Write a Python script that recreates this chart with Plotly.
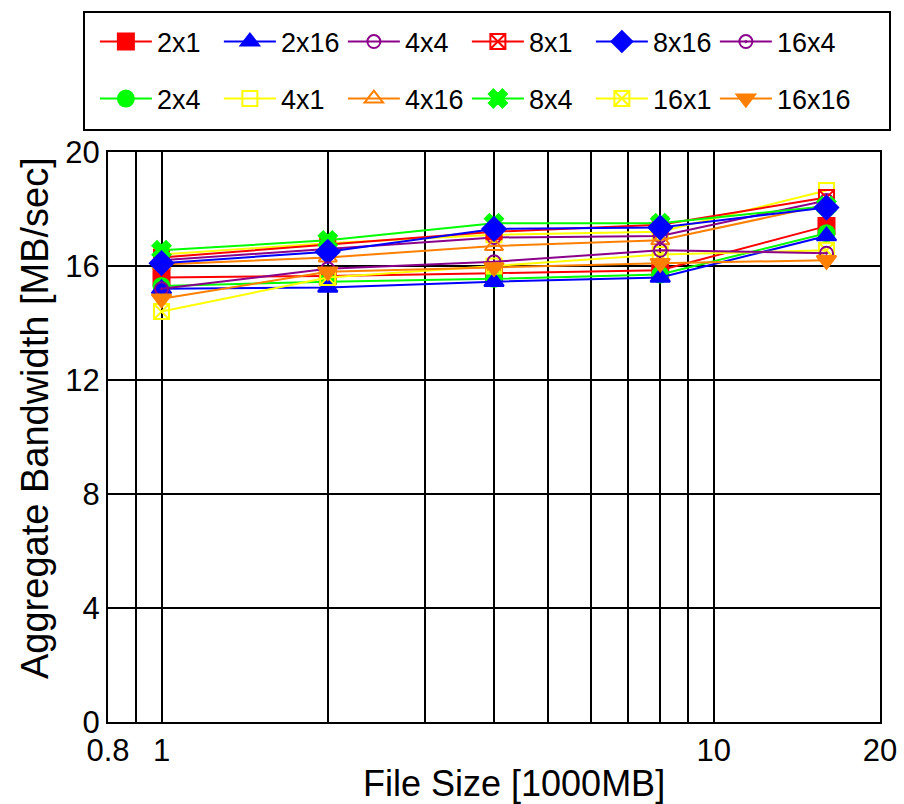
import plotly.graph_objects as go

file_size = [1, 2, 4, 8, 16]

# drawing order (column-major of the legend)
names = ["2x1", "2x4", "2x16", "4x1", "4x4", "4x16", "8x1", "8x4", "8x16", "16x1", "16x4", "16x16"]
bw_2x1 = [15.6, 15.65, 15.75, 15.85, 17.4]
bw_2x4 = [15.3, 15.45, 15.55, 15.7, 17.15]
bw_2x16 = [15.2, 15.25, 15.45, 15.6, 17.05]
bw_4x1 = [16.4, 16.8, 17.1, 17.2, 18.65]
bw_4x4 = [16.2, 16.6, 17.0, 17.05, 18.3]
bw_4x16 = [16.05, 16.3, 16.7, 16.9, 18.15]
bw_8x1 = [16.3, 16.75, 17.2, 17.45, 18.4]
bw_8x4 = [16.55, 16.9, 17.5, 17.5, 18.1]
bw_8x16 = [16.1, 16.5, 17.3, 17.35, 18.05]
bw_16x1 = [14.4, 15.6, 16.0, 16.4, 16.55]
bw_16x4 = [15.2, 15.9, 16.15, 16.55, 16.45]
bw_16x16 = [14.85, 15.8, 15.95, 16.1, 16.2]
values = [bw_2x1, bw_2x4, bw_2x16, bw_4x1, bw_4x4, bw_4x16,
          bw_8x1, bw_8x4, bw_8x16, bw_16x1, bw_16x4, bw_16x16]

x_tickvals = [0.8, 1, 10, 20]
x_ticktext = ["0.8", "1", "10", "20"]
x_minor = [0.9, 2, 3, 4, 5, 6, 7, 8, 9]
y_tickvals = [0, 4, 8, 12, 16, 20]
x_title = "File Size [1000MB]"
y_title = "Aggregate Bandwidth [MB/sec]"

RED, BLUE, PURPLE, GREEN, YELLOW, ORANGE = "#FF0000", "#0000FF", "#8B008B", "#00FF00", "#FFFF00", "#FF8000"
styles = {
    "2x1": (RED, "square", 16),
    "2x4": (GREEN, "circle", 16),
    "2x16": (BLUE, "triangle-up", 17),
    "4x1": (YELLOW, "square-open", 15),
    "4x4": (PURPLE, "circle-open", 13),
    "4x16": (ORANGE, "triangle-up-open", 16),
    "8x1": (RED, "square-x-open", 15),
    "8x4": (GREEN, "x", 16),
    "8x16": (BLUE, "diamond", 18),
    "16x1": (YELLOW, "square-x-open", 15),
    "16x4": (PURPLE, "circle-open-dot", 13),
    "16x16": (ORANGE, "triangle-down", 17),
}
order1 = ["2x1", "2x16", "4x4", "8x1", "8x16", "16x4"]
order2 = ["2x4", "4x1", "4x16", "8x4", "16x1", "16x16"]

FONT = "Liberation Sans, Arial, sans-serif"

fig = go.Figure()
for nm, vals in zip(names, values):
    col, sym, sz = styles[nm]
    in1 = nm in order1
    idx = order1.index(nm) if in1 else order2.index(nm)
    fig.add_trace(go.Scatter(
        x=file_size, y=vals, name=nm, mode="lines+markers",
        line=dict(color=col, width=2),
        marker=dict(symbol=sym, size=sz, color=col, line=dict(color=col, width=2)),
        legend="legend" if in1 else "legend2",
        legendrank=1000 + idx,
        legendwidth=90 if idx == 5 else None,
    ))

leg_common = dict(orientation="h", xanchor="left", yanchor="middle",
                  font=dict(family=FONT, size=27, color="black"),
                  bgcolor="rgba(0,0,0,0)", borderwidth=0,
                  itemwidth=52, entrywidth=57, traceorder="normal",
                  itemclick=False, itemdoubleclick=False)

fig.update_layout(
    width=904, height=804,
    margin=dict(l=108, r=24, t=152, b=82),
    paper_bgcolor="white", plot_bgcolor="white",
    font=dict(family=FONT, size=30, color="black"),
    showlegend=True,
    legend=dict(x=-0.017, y=(722 - 42) / 570, **leg_common),
    legend2=dict(x=-0.017, y=(722 - 99) / 570, **leg_common),
    xaxis=dict(
        type="log", range=[-0.09691, 1.30103],
        tickvals=x_tickvals, ticktext=x_ticktext, ticks="",
        showgrid=True, gridcolor="black", gridwidth=2,
        minor=dict(tickvals=x_minor, showgrid=True, gridcolor="black", gridwidth=2, ticks=""),
        showline=True, linecolor="black", linewidth=2, mirror=True,
        zeroline=False, automargin=False,
        tickfont=dict(family=FONT, size=31),
    ),
    yaxis=dict(
        range=[0, 20], tickvals=y_tickvals, ticks="",
        showgrid=True, gridcolor="black", gridwidth=2,
        showline=True, linecolor="black", linewidth=2, mirror=True,
        zeroline=False, automargin=False,
        tickfont=dict(family=FONT, size=31),
    ),
    annotations=[
        dict(text=x_title, xref="paper", yref="paper", x=(514 - 108) / 772, y=(722 - 784) / 570,
             xanchor="center", yanchor="middle", showarrow=False,
             font=dict(family=FONT, size=36, color="black")),
        dict(text=y_title, xref="paper", yref="paper", x=(35 - 108) / 772, y=(722 - 418) / 570,
             xanchor="center", yanchor="middle", showarrow=False, textangle=-90,
             font=dict(family=FONT, size=38, color="black")),
    ],
    shapes=[dict(type="rect", xref="paper", yref="paper",
                 x0=(84 - 108) / 772, x1=(890 - 108) / 772,
                 y0=(722 - 130) / 570, y1=(722 - 12) / 570,
                 line=dict(color="black", width=2), fillcolor="rgba(0,0,0,0)")],
)

fig.write_html("out.html")
